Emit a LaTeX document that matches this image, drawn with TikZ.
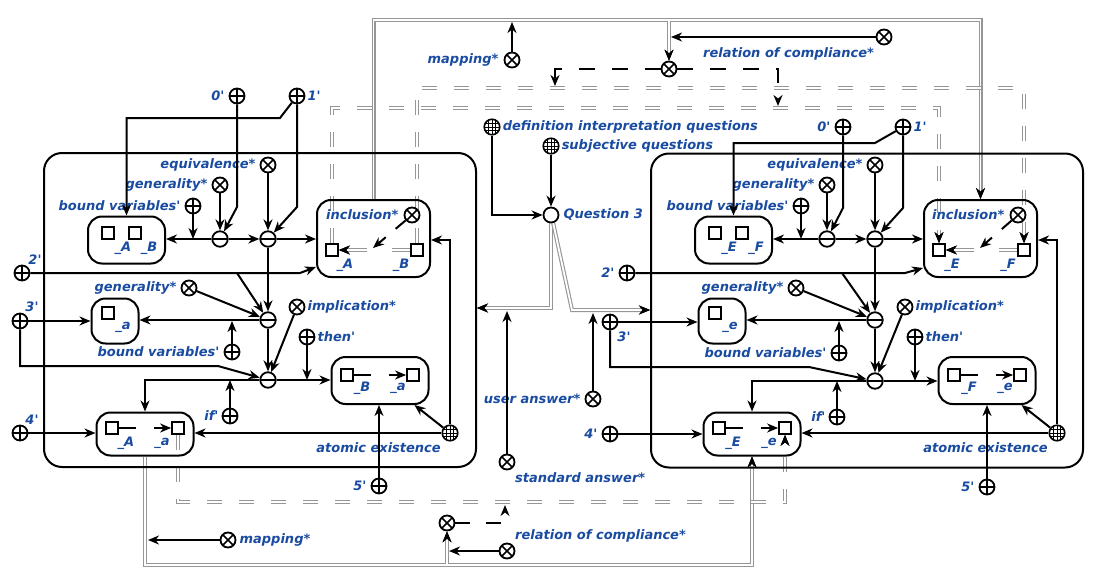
\documentclass[tikz,border=0pt]{standalone}
\usepackage{fontspec}
\setmainfont{DejaVu Sans}
\usepackage{xcolor}
\usetikzlibrary{arrows.meta,positioning,calc,backgrounds}

\definecolor{lblblue}{RGB}{25,75,160}
\definecolor{dblgray}{RGB}{150,150,150}
\newcommand{\prm}{\textquotesingle}

\begin{document}
\begin{tikzpicture}[x=1pt, y=-1pt]
% Define styles
\tikzstyle{lbl} = [text=lblblue, font=\fontsize{13}{15}\selectfont\bfseries\itshape, inner sep=1pt]
\tikzstyle{plusnode} = [circle, draw, line width=1.8pt, minimum size=15pt, inner sep=0pt, path picture={\draw[line width=1.6pt] (path picture bounding box.north) -- (path picture bounding box.south) (path picture bounding box.west) -- (path picture bounding box.east);}]
\tikzstyle{timesnode} = [circle, draw, line width=1.8pt, minimum size=15pt, inner sep=0pt, path picture={\draw[line width=1.6pt] (path picture bounding box.north west) -- (path picture bounding box.south east) (path picture bounding box.north east) -- (path picture bounding box.south west);}]
\tikzstyle{minusnode} = [circle, draw, line width=1.8pt, minimum size=15.5pt, inner sep=0pt, path picture={\draw[line width=1.6pt] (path picture bounding box.west) -- (path picture bounding box.east);}]
\tikzstyle{gridnode} = [circle, draw, line width=1.6pt, minimum size=15.5pt, inner sep=0pt, path picture={\foreach \g in {-3.6,0,3.6} {\draw[line width=0.9pt] ([xshift=\g pt]path picture bounding box.north) -- ([xshift=\g pt]path picture bounding box.south) ([yshift=\g pt]path picture bounding box.west) -- ([yshift=\g pt]path picture bounding box.east);}}]
\tikzstyle{emptynode} = [circle, draw, line width=1.8pt, minimum size=15pt, inner sep=0pt]
\tikzstyle{slot} = [rectangle, draw, line width=1.8pt, minimum size=12pt, inner sep=0pt]
\tikzstyle{term} = [rectangle, draw, line width=2pt, rounded corners=14pt, inner sep=0pt]
\tikzstyle{panel} = [rectangle, draw, line width=2pt, rounded corners=18pt, inner sep=0pt]
\tikzstyle{arrow} = [line width=2pt, -{Stealth[length=11pt,width=9pt,inset=3.5pt]}]
\tikzstyle{graydbl} = [draw=white, line width=1.8pt, preaction={draw=dblgray, line width=4pt}]
\tikzstyle{graytip} = [-{Stealth[black,length=11pt,width=9pt,inset=3.5pt,line width=0.8pt]}]
\tikzstyle{graydash} = [draw=white, line width=1.8pt, dash pattern=on 15pt off 17pt, preaction={draw=dblgray, line width=4pt, dash pattern=on 15pt off 17pt}]
\tikzstyle{graygap} = [draw=white, line width=1.8pt, dash pattern=on 18pt off 25pt on 40pt, preaction={draw=dblgray, line width=4pt, dash pattern=on 18pt off 25pt on 40pt}]
\tikzstyle{gapline} = [dash pattern=on 17pt off 18pt on 40pt]

\useasboundingbox (0,0) rectangle (1098,586);

% Left structure
\node[panel, minimum width=432pt, minimum height=314pt] (frameL) at (260,310) {};
\node[plusnode] (p0L) at (237,96) {};
\node[lbl, left=3pt of p0L] (t0L) {0\prm};
\node[plusnode] (p1L) at (297,96) {};
\node[lbl, right=1pt of p1L] (t1L) {1\prm};
\node[timesnode] (eqL) at (268,165) {};
\node[lbl, left=3pt of eqL] (teqL) {equivalence*};
\node[timesnode] (genL) at (220,185) {};
\node[lbl, left=3pt of genL] (tgenL) {generality*};
\node[plusnode] (bvL) at (193,206) {};
\node[lbl, left=3pt of bvL] (tbvL) {bound variables\prm};
\node[term, minimum width=77pt, minimum height=47pt] (boxABL) at (126.5,240) {};
\node[slot] (sqA1L) at (108,233) {};
\node[slot] (sqB1L) at (135,233) {};
\node[lbl] (tA1L) at (123,248) {\_A};
\node[lbl] (tB1L) at (149,248) {\_B};
\node[minusnode] (m1L) at (220,239) {};
\node[minusnode] (m2L) at (268,239) {};
\node[term, minimum width=113pt, minimum height=77pt] (inclL) at (373.5,238.5) {};
\node[timesnode] (xinclL) at (412,215) {};
\node[lbl, left=4pt of xinclL] (tinclL) {inclusion*};
\node[slot] (sqA2L) at (332,250) {};
\node[slot] (sqB2L) at (417,250) {};
\node[lbl] (tA2L) at (345,265) {\_A};
\node[lbl] (tB2L) at (401,265) {\_B};
\node[plusnode] (p2L) at (22,273) {};
\node[lbl] (t2L) at (35,260) {2\prm};
\node[timesnode] (gen2L) at (189,288) {};
\node[lbl, left=3pt of gen2L] (tgen2L) {generality*};
\node[minusnode] (m3L) at (268,320) {};
\node[term, minimum width=47pt, minimum height=45pt] (boxaL) at (115,321) {};
\node[slot] (sqa1L) at (108,313) {};
\node[lbl] (ta1L) at (123,327) {\_a};
\node[plusnode] (p3L) at (20,321) {};
\node[lbl] (t3L) at (32,307) {3\prm};
\node[plusnode] (bv2L) at (232,352) {};
\node[lbl, left=3pt of bv2L] (tbv2L) {bound variables\prm};
\node[minusnode] (m4L) at (268,380) {};
\node[timesnode] (impL) at (297,307) {};
\node[lbl, right=1pt of impL] (timpL) {implication*};
\node[plusnode] (thenL) at (307,337) {};
\node[lbl, right=1pt of thenL] (tthenL) {then\prm};
\node[term, minimum width=97pt, minimum height=47pt] (boxBaL) at (380,380.5) {};
\node[slot] (sqB3L) at (347,375) {};
\node[slot] (sqa3L) at (413,375) {};
\node[lbl] (tB3L) at (362,388) {\_B};
\node[lbl] (ta3L) at (398,388) {\_a};
\node[plusnode] (ifL) at (230,416) {};
\node[lbl, left=2pt of ifL] (tifL) {if\prm};
\node[term, minimum width=97pt, minimum height=43pt] (boxAaL) at (145,434) {};
\node[slot] (sqA4L) at (112,428) {};
\node[slot] (sqa4L) at (178,428) {};
\node[lbl] (tA4L) at (126,443) {\_A};
\node[lbl] (ta4L) at (162,443) {\_a};
\node[plusnode] (p4L) at (20,433) {};
\node[lbl] (t4L) at (32,420) {4\prm};
\node[gridnode] (atomL) at (450,433) {};
\node[lbl, below left=2pt and 2pt of atomL] (tatomL) {atomic existence};
\node[plusnode] (p5L) at (379,486) {};
\node[lbl, left=3pt of p5L] (t5L) {5\prm};

\coordinate (jbvL) at (193,239);
\coordinate (j2L) at (237,273);
\coordinate (jbv2L) at (232,321);
\coordinate (jthenL) at (307,380);
\coordinate (jifL) at (230,380);
\coordinate (jinclL) at (373,248);

\draw[arrow] (m1L) -- (m1L -| boxABL.east);
\draw[arrow] (bvL) -- (jbvL);
\draw[arrow] (genL) -- (m1L);
\draw[arrow] (p0L) -- (237,207) -- (m1L);
\draw[arrow] (m1L) -- (m2L);
\draw[arrow] (eqL) -- (m2L);
\draw[arrow] (p1L) -- (297,207) -- (m2L);
\draw[arrow] (p1L) -- (280,118) -- (boxABL.north |- 0,118) -- (boxABL.north);
\draw[arrow] (m2L) -- (m2L -| inclL.west);
\draw[arrow] (m2L) -- (m3L);
\draw[arrow] (p2L) -- (300,273) -- (inclL.west |- 0,267);
\draw[arrow] (j2L) -- (m3L);
\draw[arrow] (gen2L) -- (m3L);
\draw[arrow] (m3L) -- (m3L -| boxaL.east);
\draw[arrow] (p3L) -- (p3L -| boxaL.west);
\draw[arrow] (bv2L) -- (jbv2L);
\draw[arrow] (m3L) -- (m4L);
\draw[arrow] (p3L) -- (20,366) -- (218,366) -- (m4L);
\draw[arrow] (impL) -- (m4L);
\draw[arrow] (m4L) -- (m4L -| boxBaL.west);
\draw[arrow] (thenL) -- (jthenL);
\draw[arrow] (m4L) -- (boxAaL.north |- m4L) -- (boxAaL.north);
\draw[arrow] (ifL) -- (jifL);
\draw[arrow] (p4L) -- (p4L -| boxAaL.west);
\draw[arrow] (atomL) -- (atomL -| boxAaL.east);
\draw[arrow] (atomL) -- ([xshift=-15pt]boxBaL.south east);
\draw[arrow] (atomL) -- (atomL |- 0,240) -- (inclL.east |- 0,240);
\draw[arrow] (p5L) -- (p5L |- boxBaL.south);
\draw[arrow, gapline] (sqB3L) -- (sqa3L);
\draw[arrow, gapline] (sqA4L) -- (sqa4L);
\draw[graygap, graytip] (sqB2L) -- (sqA2L);
\draw[arrow, dash pattern=on 13pt off 13pt on 40pt] (xinclL) -- (jinclL);

% Right structure
\begin{scope}[xshift=607pt]
\node[panel, minimum width=432pt, minimum height=314pt] (frameR) at (260,310.5) {};
\node[plusnode] (p0R) at (236,127) {};
\node[lbl, left=3pt of p0R] (t0R) {0\prm};
\node[plusnode] (p1R) at (296,127) {};
\node[lbl, right=1pt of p1R] (t1R) {1\prm};
\node[timesnode] (eqR) at (268,165) {};
\node[lbl, left=3pt of eqR] (teqR) {equivalence*};
\node[timesnode] (genR) at (220,185) {};
\node[lbl, left=3pt of genR] (tgenR) {generality*};
\node[plusnode] (bvR) at (194,206) {};
\node[lbl, left=3pt of bvR] (tbvR) {bound variables\prm};
\node[term, minimum width=77pt, minimum height=47pt] (boxABR) at (126.5,240) {};
\node[slot] (sqA1R) at (108,233) {};
\node[slot] (sqB1R) at (135,233) {};
\node[lbl] (tA1R) at (122,248) {\_E};
\node[lbl] (tB1R) at (149,248) {\_F};
\node[minusnode] (m1R) at (220,239) {};
\node[minusnode] (m2R) at (268,239) {};
\node[term, minimum width=113pt, minimum height=77pt] (inclR) at (373.5,238.5) {};
\node[timesnode] (xinclR) at (411,215) {};
\node[lbl, left=4pt of xinclR] (tinclR) {inclusion*};
\node[slot] (sqA2R) at (332,250) {};
\node[slot] (sqB2R) at (417,250) {};
\node[lbl] (tA2R) at (345,265) {\_E};
\node[lbl] (tB2R) at (401,265) {\_F};
\node[plusnode] (p2R) at (20,273) {};
\node[lbl, left=3pt of p2R] (t2R) {2\prm};
\node[timesnode] (gen2R) at (189,288) {};
\node[lbl, left=3pt of gen2R] (tgen2R) {generality*};
\node[minusnode] (m3R) at (268,320) {};
\node[term, minimum width=47pt, minimum height=45pt] (boxaR) at (115,321) {};
\node[slot] (sqa1R) at (108,313) {};
\node[lbl] (ta1R) at (123,327) {\_e};
\node[plusnode] (p3R) at (3,322) {};
\node[lbl] (t3R) at (17,337) {3\prm};
\node[plusnode] (bv2R) at (232,353) {};
\node[lbl, left=3pt of bv2R] (tbv2R) {bound variables\prm};
\node[minusnode] (m4R) at (268,381) {};
\node[timesnode] (impR) at (298,307) {};
\node[lbl, right=1pt of impR] (timpR) {implication*};
\node[plusnode] (thenR) at (308,337) {};
\node[lbl, right=1pt of thenR] (tthenR) {then\prm};
\node[term, minimum width=97pt, minimum height=47pt] (boxBaR) at (380,380.5) {};
\node[slot] (sqB3R) at (347,375) {};
\node[slot] (sqa3R) at (413,375) {};
\node[lbl] (tB3R) at (362,388) {\_F};
\node[lbl] (ta3R) at (398,388) {\_e};
\node[plusnode] (ifR) at (230,417) {};
\node[lbl, left=2pt of ifR] (tifR) {if\prm};
\node[term, minimum width=97pt, minimum height=43pt] (boxAaR) at (145,434) {};
\node[slot] (sqA4R) at (112,428) {};
\node[slot] (sqa4R) at (178,428) {};
\node[lbl] (tA4R) at (126,443) {\_E};
\node[lbl] (ta4R) at (162,443) {\_e};
\node[plusnode] (p4R) at (3,434) {};
\node[lbl, left=3pt of p4R] (t4R) {4\prm};
\node[gridnode] (atomR) at (450,433) {};
\node[lbl, below left=2pt and 2pt of atomR] (tatomR) {atomic existence};
\node[plusnode] (p5R) at (380,487) {};
\node[lbl, left=3pt of p5R] (t5R) {5\prm};

\coordinate (jbvR) at (194,239);
\coordinate (j2R) at (235,273);
\coordinate (jbv2R) at (232,321);
\coordinate (jthenR) at (308,381);
\coordinate (jifR) at (230,381);
\coordinate (jinclR) at (373,248);

\draw[arrow] (m1R) -- (m1R -| boxABR.east);
\draw[arrow] (bvR) -- (jbvR);
\draw[arrow] (genR) -- (m1R);
\draw[arrow] (p0R) -- (236,208) -- (m1R);
\draw[arrow] (m1R) -- (m2R);
\draw[arrow] (eqR) -- (m2R);
\draw[arrow] (p1R) -- (296,208) -- (m2R);
\draw[arrow] (p1R) -- (268,143) -- (boxABR.north |- 0,143) -- (boxABR.north);
\draw[arrow] (m2R) -- (m2R -| inclR.west);
\draw[arrow] (m2R) -- (m3R);
\draw[arrow] (p2R) -- (298,273) -- (inclR.west |- 0,268);
\draw[arrow] (j2R) -- (m3R);
\draw[arrow] (gen2R) -- (m3R);
\draw[arrow] (m3R) -- (m3R -| boxaR.east);
\draw[arrow] (p3R) -- (p3R -| boxaR.west);
\draw[arrow] (bv2R) -- (jbv2R);
\draw[arrow] (m3R) -- (m4R);
\draw[arrow] (p3R) -- (3,367) -- (202,367) -- (m4R);
\draw[arrow] (impR) -- (m4R);
\draw[arrow] (m4R) -- (m4R -| boxBaR.west);
\draw[arrow] (thenR) -- (jthenR);
\draw[arrow] (m4R) -- (boxAaR.north |- m4R) -- (boxAaR.north);
\draw[arrow] (ifR) -- (jifR);
\draw[arrow] (p4R) -- (p4R -| boxAaR.west);
\draw[arrow] (atomR) -- (atomR -| boxAaR.east);
\draw[arrow] (atomR) -- ([xshift=-15pt]boxBaR.south east);
\draw[arrow] (atomR) -- (atomR |- 0,240) -- (inclR.east |- 0,240);
\draw[arrow] (p5R) -- (p5R |- boxBaR.south);
\draw[arrow, gapline] (sqB3R) -- (sqa3R);
\draw[arrow, gapline] (sqA4R) -- (sqa4R);
\draw[graygap, graytip] (sqB2R) -- (sqA2R);
\draw[arrow, dash pattern=on 13pt off 13pt on 40pt] (xinclR) -- (jinclR);
\end{scope}

% Question 3
\node[gridnode] (defQ) at (492,127) {};
\node[lbl, right=1pt of defQ] (tdefQ) {definition interpretation questions};
\node[gridnode] (subjQ) at (551,146) {};
\node[lbl, right=1pt of subjQ] (tsubjQ) {subjective questions};
\node[emptynode] (q3) at (551,215) {};
\node[lbl, right=3pt of q3] (tq3) {Question 3};
\node[timesnode] (userA) at (593,399) {};
\node[lbl, left=3pt of userA] (tuserA) {user answer*};
\node[timesnode] (stdA) at (507,462) {};
\node[lbl, below right=3pt and 1pt of stdA] (tstdA) {standard answer*};
\coordinate (juserA) at (593,313);
\coordinate (jstdA) at (507,311);
\draw[arrow] (defQ) -- (defQ |- q3) -- (q3);
\draw[arrow] (subjQ) -- (q3);
\draw[arrow] (userA) -- (juserA);
\draw[arrow] (stdA) -- (jstdA);

% Mapping and compliance
\node[timesnode] (mapT) at (512,60) {};
\node[lbl, left=4pt of mapT] (tmapT) {mapping*};
\node[timesnode] (relC) at (669,69) {};
\node[timesnode] (relT) at (884,37) {};
\node[lbl, below left=3pt and 3pt of relT] (trelT) {relation of compliance*};
\node[timesnode] (mapB) at (228,540) {};
\node[lbl, right=2pt of mapB] (tmapB) {mapping*};
\node[timesnode] (relD) at (447,523) {};
\node[timesnode] (relB) at (507,551) {};
\node[lbl, above right=2pt and 1pt of relB] (trelB) {relation of compliance*};
\coordinate (jmapT) at (512,22);
\coordinate (jrelT) at (671,37);
\coordinate (jtop) at (669,21);
\coordinate (jdash1) at (555,86);
\coordinate (jdash2) at (778,106);
\coordinate (jmapB) at (148,540);
\coordinate (jrelB) at (449,551);
\coordinate (jbot) at (447,564);
\coordinate (jdash3) at (505,505);
\draw[arrow] (mapT) -- (jmapT);
\draw[arrow] (relT) -- (jrelT);
\draw[arrow, dash pattern=on 16pt off 17pt] (relC) -- (555,69) -- (jdash1);
\draw[arrow, dash pattern=on 16pt off 17pt] (relC) -- (778,69) -- (jdash2);
\draw[arrow] (mapB) -- (jmapB);
\draw[arrow] (relB) -- (jrelB);
\draw[arrow, dash pattern=on 15pt off 16pt] (relD) -- (505,523) -- (jdash3);

% Double links
\begin{scope}[on background layer]
\draw[graydbl, graytip] (q3.south) -- (551,308) -- (frameL.east |- 0,308);
\draw[graydbl, graytip] (q3.-75) -- (572,310) -- (frameR.west |- 0,310);
\draw[graydbl, graytip] (inclL.north) -- (inclL.north |- 0,20) -- (inclR.north |- 0,20) -- (inclR.north);
\draw[graydbl, graytip] (jtop) -- (relC);
\draw[graydbl, graytip] (boxAaL.south) -- (boxAaL.south |- 0,565) -- (boxAaR.south |- 0,565) -- (boxAaR.south);
\draw[graydbl, graytip] (jbot) -- (relD);
\draw[graydash, graytip] (sqA2L) -- (sqA2L |- 0,108) -- (sqA2R |- 0,108) -- (sqA2R);
\draw[graydash, graytip] (sqB2L) -- (sqB2L |- 0,88) -- (sqB2R |- 0,88) -- (sqB2R);
\draw[graydash, graytip] (sqa4L) -- (sqa4L |- 0,502) -- (sqa4R |- 0,502) -- (sqa4R);
\end{scope}

\end{tikzpicture}
\end{document}
